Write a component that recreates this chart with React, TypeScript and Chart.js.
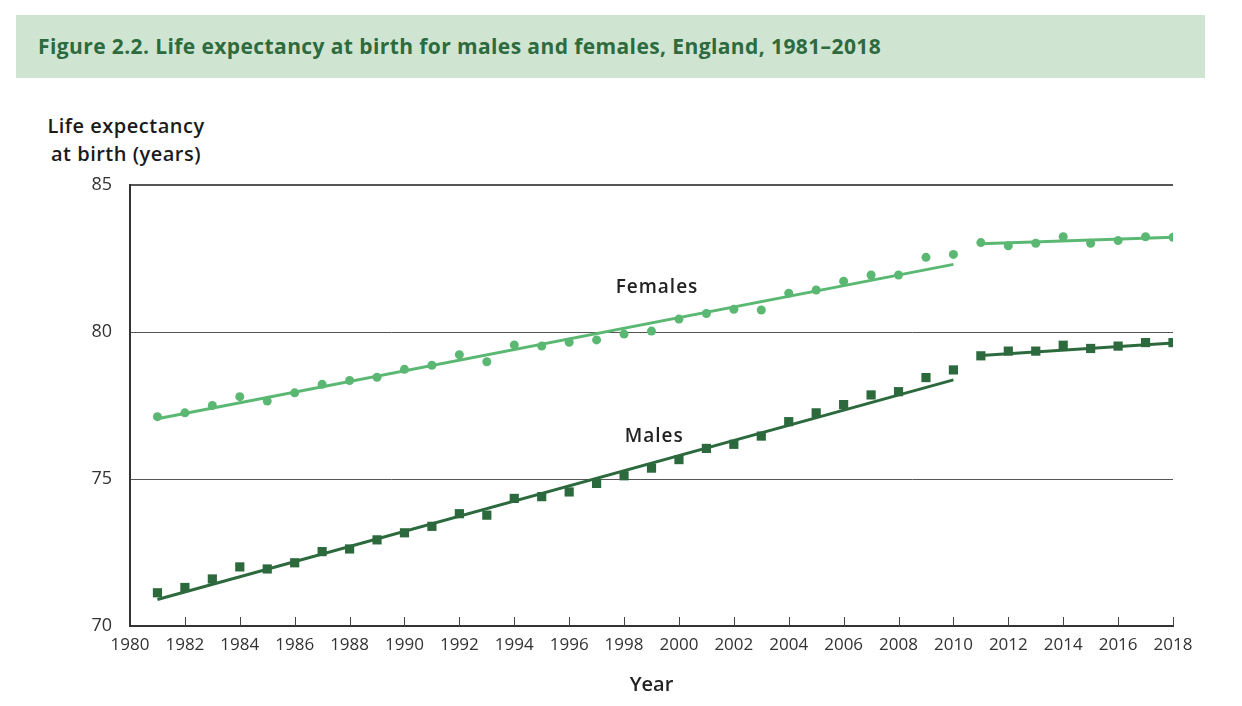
import React, { useEffect, useRef } from "react";
import { Chart, registerables } from "chart.js";

Chart.register(...registerables);

const years = [
  1981, 1982, 1983, 1984, 1985, 1986, 1987, 1988, 1989, 1990,
  1991, 1992, 1993, 1994, 1995, 1996, 1997, 1998, 1999, 2000,
  2001, 2002, 2003, 2004, 2005, 2006, 2007, 2008, 2009, 2010,
  2011, 2012, 2013, 2014, 2015, 2016, 2017, 2018,
];

const femaleValues = [
  77.12, 77.25, 77.5, 77.8, 77.65, 77.93, 78.22, 78.35, 78.46, 78.73,
  78.87, 79.23, 78.99, 79.56, 79.52, 79.65, 79.73, 79.93, 80.03, 80.44,
  80.63, 80.77, 80.75, 81.32, 81.43, 81.73, 81.94, 81.94, 82.54, 82.64,
  83.04, 82.93, 83.02, 83.24, 83.02, 83.11, 83.24, 83.22,
];

const maleValues = [
  71.13, 71.31, 71.6, 72.01, 71.94, 72.15, 72.53, 72.62, 72.93, 73.17,
  73.39, 73.82, 73.77, 74.34, 74.4, 74.56, 74.85, 75.11, 75.37, 75.66,
  76.04, 76.18, 76.46, 76.95, 77.25, 77.53, 77.86, 77.97, 78.45, 78.71,
  79.19, 79.35, 79.35, 79.55, 79.44, 79.52, 79.64, 79.64,
];

// Trend line endpoints (years and values)
const trendYearsEarly = [1981, 2010];
const trendYearsLate = [2011, 2018];
const femaleTrendEarly = [77.05, 82.3];
const femaleTrendLate = [83.0, 83.22];
const maleTrendEarly = [70.9, 78.37];
const maleTrendLate = [79.2, 79.63];

const xTickYears = [1980, 1982, 1984, 1986, 1988, 1990, 1992, 1994, 1996, 1998, 2000, 2002, 2004, 2006, 2008, 2010, 2012, 2014, 2016, 2018];

const seriesLabels = [
  { text: "Females", x: 1999.2, y: 81.5 },
  { text: "Males", x: 1999.1, y: 76.45 },
];

const FEMALE_COLOR = "#5bb873";
const MALE_COLOR = "#2c6a3d";
const FONT = "'Open Sans', 'DejaVu Sans', sans-serif";

const pts = (xs: number[], ys: number[]) => xs.map((x, i) => ({ x, y: ys[i] }));

const extrasPlugin = {
  id: "extras",
  afterDraw(chart: any) {
    const ctx = chart.ctx;
    const xs = chart.scales.x;
    const ys = chart.scales.y;
    const bottom = chart.chartArea.bottom;
    ctx.save();
    ctx.strokeStyle = "#444";
    ctx.lineWidth = 1;
    xTickYears.forEach((v) => {
      if (v === 1980) return;
      const px = Math.round(xs.getPixelForValue(v)) + 0.5;
      ctx.beginPath();
      ctx.moveTo(px, bottom);
      ctx.lineTo(px, bottom - 9);
      ctx.stroke();
    });
    ctx.fillStyle = "#222";
    ctx.font = `600 19px ${FONT}`;
    try {
      (ctx as any).letterSpacing = "1px";
    } catch (e) {}
    ctx.textAlign = "center";
    ctx.textBaseline = "middle";
    seriesLabels.forEach((l) => {
      ctx.fillText(l.text, xs.getPixelForValue(l.x), ys.getPixelForValue(l.y));
    });
    ctx.restore();
  },
};

export default function App() {
  const canvasRef = useRef<HTMLCanvasElement | null>(null);

  useEffect(() => {
    if (!canvasRef.current) return;
    const chart = new Chart(canvasRef.current, {
      type: "line",
      data: {
        datasets: [
          {
            label: "Females trend 1",
            data: pts(trendYearsEarly, femaleTrendEarly),
            borderColor: FEMALE_COLOR,
            borderWidth: 3,
            pointRadius: 0,
            fill: false,
          },
          {
            label: "Females trend 2",
            data: pts(trendYearsLate, femaleTrendLate),
            borderColor: FEMALE_COLOR,
            borderWidth: 3,
            pointRadius: 0,
            fill: false,
          },
          {
            label: "Males trend 1",
            data: pts(trendYearsEarly, maleTrendEarly),
            borderColor: MALE_COLOR,
            borderWidth: 3,
            pointRadius: 0,
            fill: false,
          },
          {
            label: "Males trend 2",
            data: pts(trendYearsLate, maleTrendLate),
            borderColor: MALE_COLOR,
            borderWidth: 3,
            pointRadius: 0,
            fill: false,
          },
          {
            label: "Females",
            data: pts(years, femaleValues),
            showLine: false,
            pointStyle: "circle",
            pointRadius: 4.5,
            pointBackgroundColor: FEMALE_COLOR,
            pointBorderWidth: 0,
            borderColor: FEMALE_COLOR,
          },
          {
            label: "Males",
            data: pts(years, maleValues),
            showLine: false,
            pointStyle: "rect",
            pointRadius: 6.5,
            pointBackgroundColor: MALE_COLOR,
            pointBorderWidth: 0,
            borderColor: MALE_COLOR,
          },
        ],
      },
      options: {
        responsive: false,
        animation: false,
        layout: { padding: { top: 185, right: 69, left: 0, bottom: 0 } },
        plugins: {
          legend: { display: false },
          tooltip: { enabled: false },
        },
        scales: {
          x: {
            type: "linear",
            min: 1980,
            max: 2018,
            afterBuildTicks: (s: any) => {
              s.ticks = xTickYears.map((v) => ({ value: v }));
            },
            ticks: {
              callback: (v: any) => String(v),
              font: { family: FONT, size: 17 },
              color: "#333",
              padding: 9,
              maxRotation: 0,
              autoSkip: false,
            },
            grid: { display: false, drawTicks: false },
            border: { display: true, color: "#333", width: 2 },
            title: {
              display: true,
              text: "Year",
              font: { family: FONT, size: 20, weight: "600" },
              color: "#222",
              padding: { top: 0, bottom: 9 },
            },
            afterFit: (s: any) => {
              s.height = 80;
            },
          },
          y: {
            type: "linear",
            min: 70,
            max: 85,
            ticks: {
              stepSize: 5,
              font: { family: FONT, size: 18 },
              color: "#333",
              padding: 18,
            },
            grid: {
              color: "#555",
              lineWidth: (c: any) => (c.tick && c.tick.value === 85 ? 2 : 1),
              drawTicks: false,
            },
            border: { display: true, color: "#333", width: 2 },
            afterFit: (s: any) => {
              s.width = 130;
            },
          },
        },
      },
      plugins: [extrasPlugin],
    } as any);
    return () => chart.destroy();
  }, []);

  return (
    <div style={{ position: "absolute", left: 0, top: 0, width: 1242, height: 706, background: "#fff" }}>
      <div
        style={{
          position: "absolute",
          left: 16,
          top: 15,
          width: 1189,
          height: 63,
          background: "#cfe5d2",
          display: "flex",
          alignItems: "center",
          paddingLeft: 22,
          paddingBottom: 2,
          boxSizing: "border-box",
          fontFamily: FONT,
          fontWeight: 700,
          fontSize: 21,
          letterSpacing: "0.4px",
          color: "#2d6b3f",
        }}
      >
        Figure 2.2. Life expectancy at birth for males and females, England, 1981–2018
      </div>
      <div
        style={{
          position: "absolute",
          left: 26,
          top: 112,
          width: 200,
          textAlign: "center",
          fontFamily: FONT,
          fontWeight: 600,
          fontSize: 20,
          letterSpacing: "0.5px",
          lineHeight: "28px",
          color: "#1a1a1a",
        }}
      >
        Life expectancy
        <br />
        at birth (years)
      </div>
      <canvas
        ref={canvasRef}
        width={1242}
        height={706}
        style={{ position: "absolute", left: 0, top: 0, width: 1242, height: 706 }}
      />
    </div>
  );
}
